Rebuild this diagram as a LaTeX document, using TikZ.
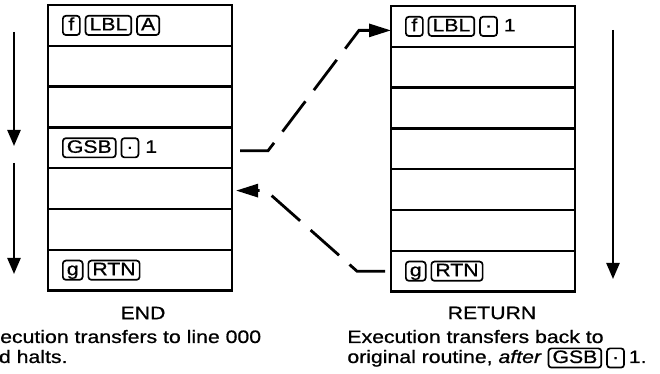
\documentclass[tikz,border=0pt]{standalone}
\usepackage{fontspec}
\setmainfont[FakeStretch=1.18,FakeBold=0.8]{Liberation Sans}
\usetikzlibrary{arrows.meta,positioning}

\tikzset{
  keybox/.style={
    draw, line width=0.85pt, rounded corners=1.5pt,
    inner xsep=2pt, inner ysep=0.5pt,
    minimum width=8.5pt, minimum height=9.5pt,
    text height=6.8pt, text depth=1.8pt,
    text width={}, align=center
  }
}
\newcommand{\key}[1]{\tikz[baseline=(k.base)]\node[keybox] (k) {#1};}

\begin{document}
\begin{tikzpicture}[
    x=0.5pt, y=-0.5pt,
    font=\fontsize{9pt}{10pt}\selectfont,
    row/.style={
      rectangle, draw, line width=1.2pt,
      minimum width=92pt, minimum height=20.4pt,
      inner xsep=7pt, text width=78pt, align=left,
      outer sep=0pt
    },
    flow/.style={-{Triangle[length=8pt,width=6.5pt]}, line width=1.2pt},
    jump/.style={-{Triangle[length=11pt,width=6.5pt]}, line width=1.4pt,
      dash pattern=on 19pt off 7pt},
  ]
  \useasboundingbox (0,0) rectangle (660,374);
  \clip (0,0) rectangle (660,374);

  %% -- calling routine ---------------------------------------
  \node[row, anchor=north] (l1) at (140,5) {\key{f}\hspace{2pt}\key{LBL}\hspace{2pt}\key{A}};
  \node[row, below=0pt of l1] (l2) {};
  \node[row, below=0pt of l2] (l3) {};
  \node[row, below=0pt of l3] (l4) {\key{GSB}\hspace{2pt}\key{·}\hspace{3pt}1};
  \node[row, below=0pt of l4] (l5) {};
  \node[row, below=0pt of l5] (l6) {};
  \node[row, below=0pt of l6] (l7) {\key{g}\hspace{2pt}\key{RTN}};

  %% -- subroutine ---------------------------------------------
  \node[row, anchor=north] (r1) at (483,6) {\key{f}\hspace{2pt}\key{LBL}\hspace{2pt}\key{·}\hspace{3pt}1};
  \node[row, below=0pt of r1] (r2) {};
  \node[row, below=0pt of r2] (r3) {};
  \node[row, below=0pt of r3] (r4) {};
  \node[row, below=0pt of r4] (r5) {};
  \node[row, below=0pt of r5] (r6) {};
  \node[row, below=0pt of r6] (r7) {\key{g}\hspace{2pt}\key{RTN}};

  %% -- captions -----------------------------------------------
  \node (endlbl) at (143,313) {END};
  \node[anchor=base west, inner sep=0pt] (endtxt) at (-25,343) {Execution transfers to line 000};
  \node[anchor=base west, inner sep=0pt] (endtxtb) at (-25,363) {and halts.};

  \node (retlbl) at (492,313) {RETURN};
  \node[anchor=base west, inner sep=0pt] (rettxt) at (347,343) {Execution transfers back to};
  \node[anchor=base west, inner sep=0pt] (rettxtb) at (347,363)
    {original routine, \textit{after} \key{GSB}\hspace{2pt}\key{·}\hspace{2pt}1.};

  %% -- direction of execution ---------------------------------
  \coordinate (runa) at (14,32);   \coordinate (runb) at (14,146);
  \coordinate (runc) at (14,163);  \coordinate (rund) at (14,274);
  \coordinate (subra) at (613,30); \coordinate (subrb) at (613,279);
  \draw[flow] (runa) -- (runb);
  \draw[flow] (runc) -- (rund);
  \draw[flow] (subra) -- (subrb);

  %% -- transfers ----------------------------------------------
  \draw[jump] ([xshift=4pt,yshift=-1.5pt]l4.east) -- ++(14pt,0)
              -- ([xshift=-16pt,yshift=-2pt]r1.west) -- ([yshift=-2pt]r1.west);
  \draw[jump] ([xshift=-3pt]r7.west) -- ++(-14pt,0)
              -- ([xshift=17pt,yshift=-1pt]l5.east) -- ([xshift=2pt,yshift=-1pt]l5.east);

\end{tikzpicture}
\end{document}
